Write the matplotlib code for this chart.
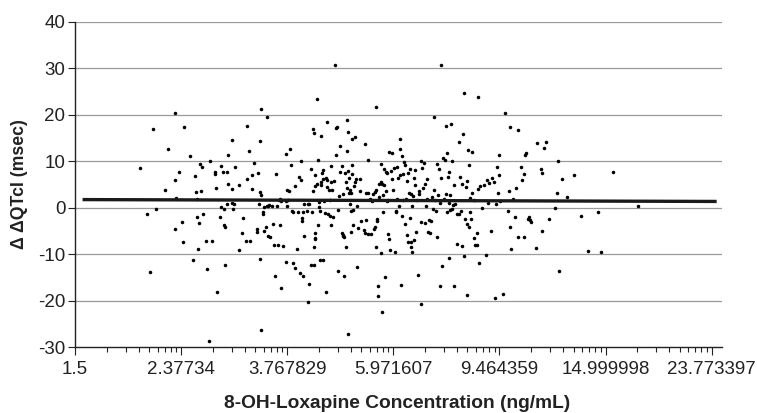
import numpy as np
import matplotlib
matplotlib.use("Agg")
from matplotlib import pyplot as plt

plt.rcParams["font.family"] = ["Liberation Sans Narrow", "Liberation Sans", "DejaVu Sans"]
plt.rcParams["axes.unicode_minus"] = False

# 8-OH-Loxapine concentration (ng/mL) and delta-delta QTcI (msec)
conc = [1.99, 2.10, 2.05, 2.08, 2.13, 2.22, 2.25, 2.32, 2.32, 2.33,
        2.36, 2.32, 2.39, 2.40, 2.41, 2.47, 2.50, 2.53, 2.54, 2.55,
        2.55, 2.57, 2.56, 2.58, 2.59, 2.60, 2.62, 2.65, 2.66, 2.68,
        2.70, 2.72, 2.75, 2.75, 2.77, 2.78, 2.81, 2.83, 2.83, 2.85,
        2.86, 2.88, 2.86, 2.88, 2.90, 2.90, 2.91, 2.91, 2.96, 2.96,
        2.97, 2.98, 2.99, 3.01, 3.05, 3.05, 3.09, 3.11, 3.15, 3.17,
        3.19, 3.17, 3.21, 3.23, 3.24, 3.26, 3.30, 3.30, 3.32, 3.33,
        3.35, 3.35, 3.35, 3.36, 3.37, 3.37, 3.39, 3.39, 3.40, 3.41,
        3.43, 3.45, 3.45, 3.46, 3.47, 3.48, 3.50, 3.53, 3.54, 3.56,
        3.58, 3.59, 3.61, 3.62, 3.63, 3.65, 3.65, 3.66, 3.66, 3.70,
        3.75, 3.75, 3.75, 3.76, 3.77, 3.78, 3.80, 3.81, 3.83, 3.85,
        3.86, 3.86, 3.90, 3.90, 3.94, 3.95, 3.96, 3.98, 4.00, 4.00,
        4.01, 4.02, 4.04, 4.04, 4.05, 4.06, 4.11, 4.12, 4.13, 4.14,
        4.15, 4.18, 4.18, 4.19, 4.21, 4.21, 4.23, 4.23, 4.23, 4.25,
        4.25, 4.25, 4.26, 4.26, 4.28, 4.28, 4.30, 4.31, 4.32, 4.33,
        4.34, 4.35, 4.36, 4.37, 4.37, 4.39, 4.40, 4.40, 4.41, 4.42,
        4.44, 4.45, 4.46, 4.47, 4.47, 4.48, 4.50, 4.51, 4.53, 4.54,
        4.55, 4.56, 4.56, 4.58, 4.59, 4.61, 4.64, 4.65, 4.66, 4.68,
        4.69, 4.70, 4.71, 4.73, 4.74, 4.77, 4.78, 4.79, 4.80, 4.81,
        4.82, 4.83, 4.85, 4.86, 4.86, 4.88, 4.89, 4.89, 4.90, 4.91,
        4.91, 4.92, 4.93, 4.94, 4.95, 4.96, 4.97, 4.98, 4.99, 5.00,
        5.00, 5.01, 5.02, 5.04, 5.05, 5.06, 5.07, 5.09, 5.11, 5.12,
        5.16, 5.17, 5.20, 5.25, 5.28, 5.29, 5.30, 5.31, 5.34, 5.35,
        5.36, 5.39, 5.42, 5.43, 5.45, 5.46, 5.48, 5.51, 5.51, 5.53,
        5.53, 5.55, 5.57, 5.57, 5.58, 5.59, 5.60, 5.62, 5.65, 5.66,
        5.66, 5.68, 5.69, 5.72, 5.72, 5.74, 5.74, 5.76, 5.78, 5.79,
        5.80, 5.82, 5.83, 5.84, 5.85, 5.87, 5.89, 5.90, 5.93, 5.95,
        5.97, 6.00, 6.01, 6.03, 6.05, 6.06, 6.07, 6.10, 6.11, 6.14,
        6.15, 6.16, 6.18, 6.19, 6.20, 6.22, 6.24, 6.25, 6.27, 6.29,
        6.32, 6.33, 6.35, 6.36, 6.37, 6.39, 6.41, 6.43, 6.44, 6.45,
        6.45, 6.48, 6.49, 6.51, 6.52, 6.54, 6.55, 6.56, 6.59, 6.62,
        6.65, 6.67, 6.69, 6.72, 6.73, 6.74, 6.77, 6.79, 6.82, 6.84,
        6.86, 6.87, 6.90, 6.92, 6.93, 6.97, 7.00, 7.03, 7.06, 7.09,
        7.11, 7.12, 7.15, 7.18, 7.21, 7.23, 7.26, 7.27, 7.30, 7.32,
        7.33, 7.35, 7.38, 7.41, 7.44, 7.47, 7.49, 7.52, 7.54, 7.55,
        7.57, 7.60, 7.62, 7.62, 7.63, 7.65, 7.68, 7.70, 7.71, 7.73,
        7.76, 7.78, 7.79, 7.86, 7.89, 7.93, 7.94, 7.98, 8.01, 8.04,
        8.06, 8.09, 8.11, 8.13, 8.15, 8.18, 8.21, 8.21, 8.23, 8.27,
        8.28, 8.30, 8.32, 8.34, 8.37, 8.39, 8.42, 8.46, 8.49, 8.53,
        8.57, 8.58, 8.62, 8.64, 8.66, 8.69, 8.78, 8.84, 8.93, 8.97,
        9.01, 9.05, 9.12, 9.18, 9.24, 9.30, 9.33, 9.37, 9.41, 9.45,
        9.46, 9.50, 9.60, 9.71, 9.81, 9.85, 9.89, 9.93, 9.97, 10.06,
        10.14, 10.16, 10.25, 10.27, 10.38, 10.44, 10.51, 10.55, 10.58, 10.64,
        10.71, 10.78, 10.82, 10.87, 11.08, 11.15, 11.33, 11.38, 11.39, 11.48,
        11.57, 11.75, 12.07, 12.15, 12.22, 12.27, 12.43, 12.67, 13.07, 13.46,
        13.92, 14.49, 14.73, 15.48, 17.26]

dqtc = [8.6, 16.9, -1.4, -13.9, -0.3, 3.8, 12.7, 20.5, 6.0, 2.2,
        7.8, -4.6, -3.0, -7.3, 17.4, 11.2, -11.2, 6.8, 3.3, 1.9,
        -1.9, -3.2, -8.8, 9.5, 3.5, 8.7, -1.4, -7.1, -13.1, -28.6,
        10.0, -7.2, 7.6, 7.3, 4.2, -18.1, -2.1, 0.1, 8.9, 7.7,
        -0.3, -12.3, -3.8, -4.2, 0.7, 7.8, 5.2, 11.3, 14.5, 4.1,
        1.1, -0.3, 0.7, 8.8, 5.0, -9.2, -5.5, -2.2, -7.2, 17.7,
        12.3, 6.2, -7.2, 7.1, 4.1, 9.6, -5.2, -4.5, 7.5, 0.9,
        14.4, 3.4, -11.1, 2.8, 21.2, -26.4, -0.9, -1.4, 0.1, -5.0,
        -4.2, 19.5, 0.4, 0.4, -6.0, 0.5, -6.2, 0.4, -3.5, -8.0,
        -14.6, 7.2, 0.3, -8.0, 1.7, -3.7, 1.9, 1.4, -17.2, -8.3,
        1.4, 11.6, -11.6, 0.3, 3.9, 1.7, 3.7, 12.7, 9.1, -0.7,
        -11.8, -0.9, 4.7, -13.0, -8.8, -0.9, 6.6, -14.1, 5.9, 10.1,
        -2.2, -2.9, -14.8, -1.0, 0.7, -6.1, -0.7, 0.9, -20.3, -16.4,
        0.7, -12.4, 8.3, -0.9, 3.7, 16.9, 16.2, -12.4, -8.4, 7.1,
        -5.5, -6.6, -6.8, 4.6, 5.1, 23.4, -3.8, 10.3, 0.1, 1.3,
        -0.6, -11.2, 5.5, 15.4, 5.0, 7.5, 8.2, -11.2, 6.2, 1.4,
        -1.1, -18.2, 6.4, 6.0, 18.4, 4.5, -1.4, 3.9, -1.7, 1.7,
        -3.8, 9.0, 5.6, 3.9, -2.0, 5.7, 30.7, 11.3, 17.2, 17.4,
        -0.4, -13.6, 2.6, 7.8, 13.2, -5.4, 9.0, -6.1, -5.9, 2.9,
        -14.8, -6.2, 7.4, 5.6, -8.5, 12.3, 18.8, 4.3, -27.2, 16.4,
        7.9, 3.1, 6.5, 0.9, 3.9, 3.2, -0.8, -5.2, 14.8, 7.3,
        9.3, -0.4, -3.7, 4.7, 5.5, 15.2, 6.2, -12.8, 0.3, -4.3,
        3.6, 6.1, -2.9, -4.7, 13.8, -5.4, 3.1, -2.7, 10.3, -5.7,
        3.2, 1.9, 1.7, -5.6, 1.5, 2.9, -4.6, -4.2, 3.3, 21.8,
        -8.5, 3.8, -2.9, -2.4, -16.9, -19.0, 2.4, 5.2, 9.4, -9.7,
        5.5, 5.2, -22.5, -0.9, 2.7, 8.3, 5.0, -15.0, 7.8, 3.7,
        1.4, 7.4, -5.7, 1.6, -6.7, 12.0, -9.0, 7.9, 6.2, 11.7,
        3.9, 8.5, -9.5, -0.9, -0.6, 1.9, 8.8, 6.5, 0.3, 7.0,
        14.7, 12.6, -16.6, 11.1, -1.7, 7.2, 1.7, 9.8, 9.1, -3.5,
        1.9, -5.9, 5.8, -7.3, 7.5, 3.2, 8.4, -2.3, -7.4, -8.4,
        2.9, 0.3, -9.5, 2.6, 6.5, -6.9, 8.2, 5.0, -5.2, 1.7,
        -14.5, 3.7, 2.9, -20.7, 10.1, -3.1, 8.5, 4.2, 9.6, -3.3,
        5.2, 0.4, 6.2, 1.9, -5.2, -2.7, -5.5, -2.9, 2.4, -0.3,
        3.9, 19.5, 1.7, -0.6, 9.4, -6.2, 2.7, 8.3, 1.0, -16.8,
        30.7, 6.5, -12.6, 10.8, 1.8, 10.3, 17.5, 3.0, -0.9, 11.8,
        6.7, 7.8, -10.8, 1.1, -0.4, 2.7, 18.1, 10.1, -0.3, 0.5,
        5.0, -16.8, 0.9, -7.8, -1.4, 14.1, -1.4, 6.6, -0.8, -8.3,
        5.2, 15.9, 24.7, -10.3, -2.5, 4.4, 5.8, -18.7, -3.4, 12.5,
        -4.2, 9.2, 2.2, -0.9, -2.4, 12.0, 3.2, 1.7, -6.5, -8.0,
        -8.0, -5.5, 4.1, 23.9, -11.8, 4.6, 0.0, 4.8, -10.1, 6.0,
        1.0, 5.3, -5.0, 6.4, 5.5, -19.5, 0.8, 8.8, 3.1, 11.3,
        7.0, 1.4, -18.5, 20.3, -0.7, 3.5, 17.3, -4.2, -8.9, 1.8,
        -2.0, 4.2, 16.8, -6.2, 8.8, 6.0, 7.3, -6.4, 11.3, 11.8,
        -2.4, -2.1, -2.6, -3.0, -8.6, 13.9, 8.3, 7.5, -5.1, 12.8,
        14.1, -2.4, 0.0, 3.2, 10.1, -13.6, 6.1, 2.4, 7.0, -1.7,
        -9.4, -0.9, -9.6, 7.7, 0.4]

# fitted regression line (end points)
fit_x = [1.55, 24.3]
fit_y = [1.75, 1.35]

x_ticks = [1.5, 2.37734, 3.767829, 5.971607, 9.464359, 14.999998, 23.773397]
x_ticklabels = ["1.5", "2.37734", "3.767829", "5.971607", "9.464359", "14.999998", "23.773397"]
y_ticks = [-30, -20, -10, 0, 10, 20, 30, 40]

fig = plt.figure(figsize=(7.57, 4.13), dpi=100)
ax = fig.add_axes([75 / 757, 66 / 413, 647 / 757, 325 / 413])

for yv in y_ticks[1:]:
    ax.axhline(yv, color="#9a9a9a", lw=0.9, zorder=1)

ax.scatter(conc, dqtc, s=6.5, color="black", linewidths=0, zorder=3)
ax.plot(fit_x, fit_y, color="#1a1a1a", lw=2.4, solid_capstyle="butt", zorder=4)

ax.set_xscale("log")
ax.set_xlim(1.5, 24.87)
ax.set_ylim(-30, 40)

# minor ticks: 2..9 sub-divisions inside each major step
minors = []
for a, b in zip(x_ticks[:-1], x_ticks[1:]):
    for k in range(2, 10):
        minors.append(a * (b / a) ** np.log10(k))
ax.set_xticks(x_ticks)
ax.set_xticklabels(x_ticklabels)
ax.set_xticks(minors, minor=True)
ax.xaxis.set_minor_formatter(matplotlib.ticker.NullFormatter())
ax.set_yticks(y_ticks)

ax.tick_params(axis="x", which="major", length=6, width=0.8, labelsize=13.5, pad=4, colors="#222222")
ax.tick_params(axis="x", which="minor", length=3.5, width=0.8, colors="#222222")
ax.tick_params(axis="y", which="major", length=5, width=0.8, labelsize=13.5, pad=2, colors="#222222")

for side in ["top", "right"]:
    ax.spines[side].set_visible(False)
for side in ["left", "bottom"]:
    ax.spines[side].set_color("#222222")
    ax.spines[side].set_linewidth(1.0)

fig.text(397 / 757, 1 - 403 / 413, "8-OH-Loxapine Concentration (ng/mL)", ha="center", va="center",
         fontsize=13.8, fontweight="bold", color="#222222", family=["Liberation Sans", "DejaVu Sans"])
fig.text(20 / 757, 1 - 184 / 413, "\u0394 \u0394QTcI (msec)", ha="center", va="center", rotation=90,
         fontsize=12.7, fontweight="bold", color="#222222", family=["Liberation Sans", "DejaVu Sans"])

fig.savefig("out.png", dpi=100)
